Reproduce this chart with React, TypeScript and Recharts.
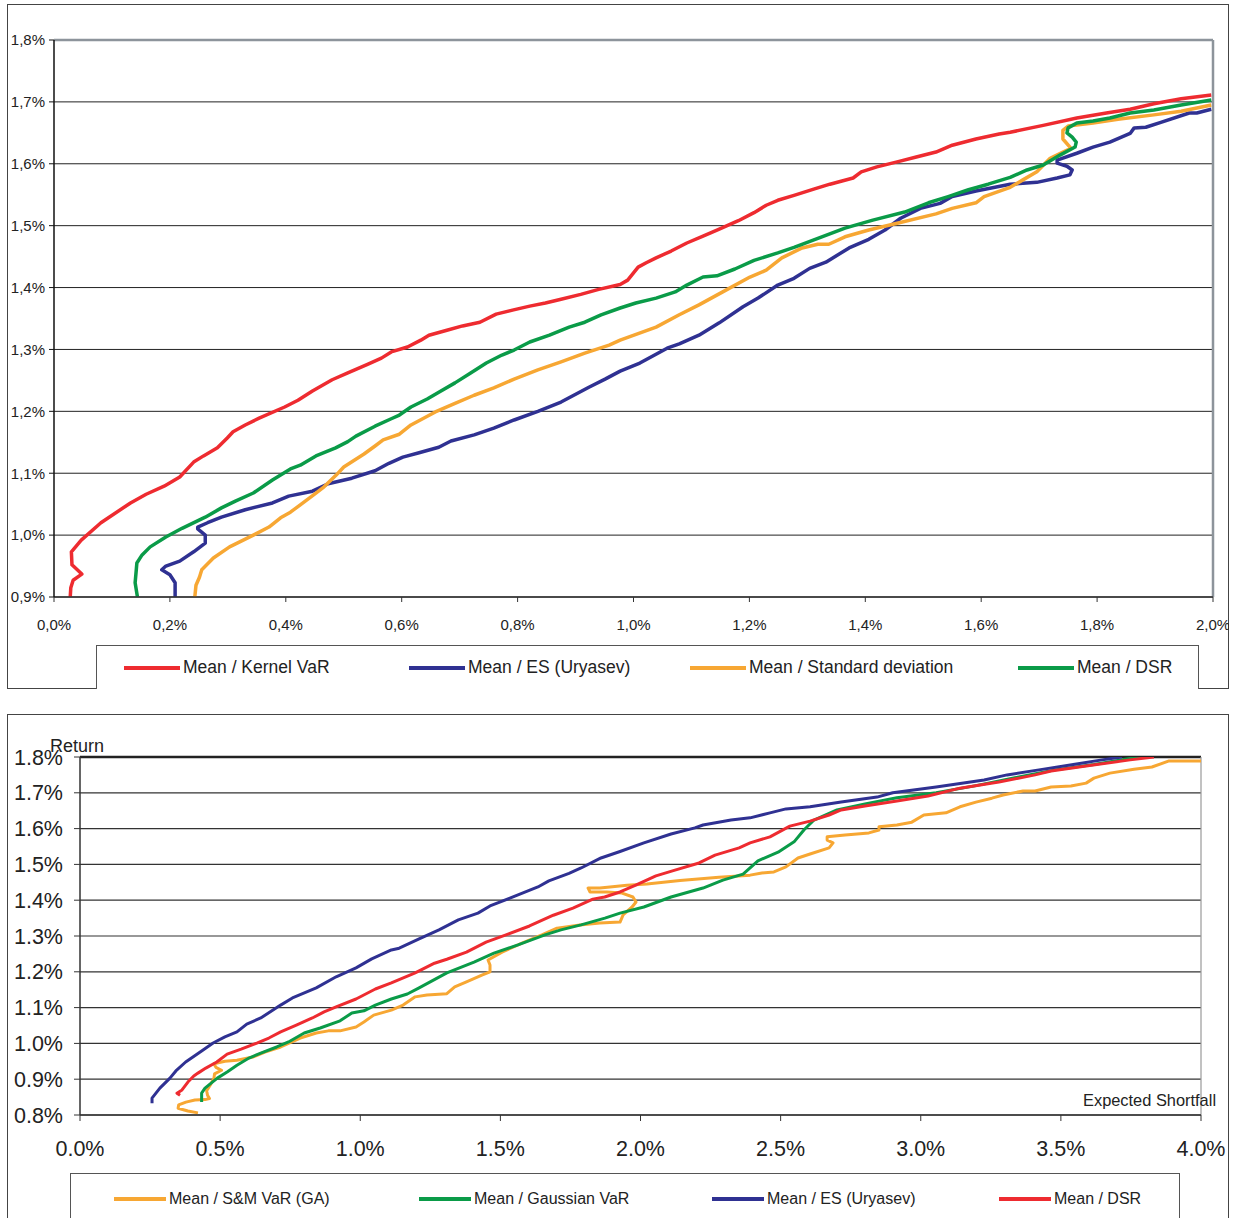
import { CartesianGrid, Line, LineChart, ReferenceLine, XAxis, YAxis } from "recharts";

// [risk in %, return in %]
type Pt = [number, number];

const topKernelVaR: Pt[] = [
  [0.028, 0.9], [0.029, 0.915], [0.033, 0.927], [0.048, 0.937], [0.031, 0.952], [0.03, 0.973],
  [0.047, 0.992], [0.081, 1.02], [0.132, 1.052], [0.159, 1.066], [0.19, 1.079], [0.217, 1.094],
  [0.241, 1.118], [0.258, 1.128], [0.282, 1.141], [0.299, 1.157], [0.309, 1.167], [0.33, 1.178],
  [0.354, 1.189], [0.398, 1.207], [0.421, 1.218], [0.446, 1.233], [0.48, 1.251], [0.507, 1.262],
  [0.541, 1.276], [0.565, 1.286], [0.582, 1.296], [0.61, 1.304], [0.633, 1.315], [0.647, 1.323],
  [0.678, 1.331], [0.705, 1.338], [0.735, 1.344], [0.763, 1.357], [0.793, 1.364], [0.821, 1.37],
  [0.848, 1.375], [0.875, 1.381], [0.909, 1.389], [0.94, 1.397], [0.977, 1.405], [0.99, 1.412],
  [1.008, 1.433], [1.022, 1.44], [1.039, 1.448], [1.065, 1.459], [1.092, 1.472], [1.12, 1.483],
  [1.147, 1.494], [1.181, 1.508], [1.208, 1.521], [1.229, 1.533], [1.249, 1.541], [1.277, 1.549],
  [1.311, 1.559], [1.339, 1.567], [1.379, 1.577], [1.393, 1.587], [1.42, 1.595], [1.455, 1.603],
  [1.488, 1.611], [1.522, 1.619], [1.55, 1.63], [1.591, 1.64], [1.631, 1.648], [1.65, 1.651],
  [1.707, 1.662], [1.765, 1.674], [1.816, 1.682], [1.857, 1.688], [1.898, 1.697], [1.945, 1.705],
  [1.997, 1.711],
];

const topEsUryasev: Pt[] = [
  [0.209, 0.9], [0.209, 0.923], [0.2, 0.936], [0.186, 0.944], [0.193, 0.95], [0.217, 0.958],
  [0.241, 0.973], [0.261, 0.987], [0.261, 1.0], [0.248, 1.01], [0.248, 1.013], [0.265, 1.02],
  [0.289, 1.029], [0.33, 1.041], [0.377, 1.052], [0.405, 1.063], [0.446, 1.071], [0.473, 1.083],
  [0.514, 1.092], [0.554, 1.104], [0.578, 1.116], [0.602, 1.126], [0.63, 1.133], [0.664, 1.142],
  [0.685, 1.152], [0.725, 1.162], [0.759, 1.173], [0.794, 1.186], [0.835, 1.2], [0.875, 1.215],
  [0.923, 1.239], [0.951, 1.252], [0.977, 1.265], [1.011, 1.278], [1.058, 1.302], [1.079, 1.309],
  [1.113, 1.323], [1.148, 1.343], [1.189, 1.369], [1.215, 1.383], [1.249, 1.404], [1.277, 1.415],
  [1.304, 1.431], [1.332, 1.441], [1.372, 1.464], [1.406, 1.478], [1.434, 1.493], [1.461, 1.512],
  [1.495, 1.528], [1.529, 1.536], [1.55, 1.547], [1.591, 1.556], [1.65, 1.567], [1.696, 1.57],
  [1.731, 1.577], [1.753, 1.582], [1.757, 1.59], [1.748, 1.596], [1.731, 1.601], [1.731, 1.606],
  [1.765, 1.617], [1.793, 1.627], [1.822, 1.635], [1.857, 1.649], [1.864, 1.658], [1.884, 1.659],
  [1.91, 1.667], [1.959, 1.682], [1.972, 1.682], [1.997, 1.688],
];

const topStdDev: Pt[] = [
  [0.243, 0.9], [0.245, 0.919], [0.251, 0.932], [0.255, 0.944], [0.275, 0.963], [0.303, 0.981],
  [0.344, 1.0], [0.371, 1.013], [0.391, 1.028], [0.408, 1.037], [0.425, 1.049], [0.452, 1.068],
  [0.466, 1.078], [0.487, 1.097], [0.5, 1.11], [0.535, 1.131], [0.554, 1.144], [0.568, 1.154],
  [0.596, 1.163], [0.616, 1.178], [0.658, 1.199], [0.692, 1.213], [0.725, 1.226], [0.759, 1.238],
  [0.794, 1.252], [0.835, 1.267], [0.875, 1.28], [0.916, 1.294], [0.958, 1.307], [0.977, 1.315],
  [1.039, 1.336], [1.079, 1.356], [1.113, 1.372], [1.154, 1.393], [1.201, 1.417], [1.229, 1.428],
  [1.256, 1.448], [1.291, 1.464], [1.318, 1.47], [1.337, 1.47], [1.365, 1.482], [1.406, 1.493],
  [1.455, 1.504], [1.522, 1.519], [1.55, 1.528], [1.591, 1.537], [1.605, 1.547], [1.65, 1.562],
  [1.672, 1.574], [1.696, 1.587], [1.719, 1.609], [1.741, 1.619], [1.755, 1.625], [1.741, 1.64],
  [1.741, 1.654], [1.75, 1.661], [1.793, 1.666], [1.836, 1.672], [1.898, 1.679], [1.945, 1.685],
  [1.997, 1.695],
];

const topDsr: Pt[] = [
  [0.144, 0.9], [0.14, 0.923], [0.142, 0.944], [0.143, 0.955], [0.152, 0.968], [0.166, 0.981],
  [0.193, 0.997], [0.221, 1.011], [0.261, 1.029], [0.289, 1.044], [0.313, 1.055], [0.344, 1.068],
  [0.377, 1.089], [0.408, 1.107], [0.425, 1.113], [0.452, 1.128], [0.486, 1.141], [0.507, 1.151],
  [0.521, 1.16], [0.554, 1.176], [0.582, 1.188], [0.596, 1.194], [0.616, 1.207], [0.644, 1.22],
  [0.664, 1.231], [0.692, 1.246], [0.719, 1.262], [0.746, 1.278], [0.773, 1.291], [0.794, 1.299],
  [0.821, 1.312], [0.855, 1.323], [0.889, 1.336], [0.916, 1.344], [0.944, 1.356], [0.977, 1.367],
  [1.004, 1.375], [1.039, 1.383], [1.072, 1.393], [1.092, 1.404], [1.12, 1.417], [1.144, 1.419],
  [1.175, 1.43], [1.208, 1.444], [1.249, 1.456], [1.277, 1.465], [1.325, 1.482], [1.365, 1.496],
  [1.413, 1.509], [1.468, 1.522], [1.509, 1.537], [1.543, 1.547], [1.578, 1.558], [1.612, 1.567],
  [1.65, 1.578], [1.679, 1.59], [1.707, 1.598], [1.736, 1.614], [1.762, 1.627], [1.764, 1.635],
  [1.757, 1.643], [1.748, 1.65], [1.75, 1.658], [1.765, 1.666], [1.793, 1.669], [1.822, 1.674],
  [1.857, 1.682], [1.898, 1.687], [1.945, 1.695], [1.997, 1.703],
];

const bottomSmVaR: Pt[] = [
  [0.421, 0.806], [0.385, 0.811], [0.35, 0.819], [0.352, 0.828], [0.378, 0.836], [0.41, 0.842],
  [0.446, 0.843], [0.462, 0.846], [0.455, 0.855], [0.452, 0.868], [0.465, 0.884], [0.478, 0.903],
  [0.48, 0.915], [0.505, 0.925], [0.485, 0.933], [0.478, 0.943], [0.517, 0.95], [0.56, 0.953],
  [0.617, 0.962], [0.66, 0.976], [0.716, 0.99], [0.786, 1.015], [0.843, 1.029], [0.886, 1.035],
  [0.928, 1.035], [0.985, 1.046], [1.013, 1.06], [1.048, 1.079], [1.111, 1.093], [1.153, 1.107],
  [1.196, 1.13], [1.238, 1.135], [1.309, 1.139], [1.337, 1.158], [1.379, 1.172], [1.434, 1.191],
  [1.463, 1.2], [1.463, 1.219], [1.456, 1.233], [1.506, 1.255], [1.577, 1.28], [1.648, 1.303],
  [1.702, 1.322], [1.784, 1.331], [1.855, 1.336], [1.927, 1.339], [1.938, 1.359], [1.97, 1.381],
  [1.984, 1.395], [1.973, 1.409], [1.934, 1.42], [1.88, 1.423], [1.82, 1.423], [1.813, 1.434],
  [1.855, 1.434], [1.891, 1.437], [1.952, 1.442], [2.023, 1.445], [2.141, 1.455], [2.28, 1.464],
  [2.391, 1.47], [2.433, 1.476], [2.476, 1.479], [2.519, 1.493], [2.562, 1.518], [2.605, 1.529],
  [2.673, 1.546], [2.687, 1.56], [2.666, 1.568], [2.666, 1.577], [2.73, 1.582], [2.815, 1.588],
  [2.851, 1.596], [2.851, 1.605], [2.915, 1.61], [2.968, 1.618], [3.011, 1.638], [3.09, 1.644],
  [3.14, 1.661], [3.197, 1.674], [3.254, 1.685], [3.294, 1.694], [3.365, 1.705], [3.408, 1.705],
  [3.465, 1.716], [3.536, 1.719], [3.59, 1.727], [3.618, 1.741], [3.675, 1.755], [3.761, 1.766],
  [3.825, 1.772], [3.886, 1.789], [4.0, 1.789],
];

const bottomGaussVaR: Pt[] = [
  [0.434, 0.836], [0.434, 0.861], [0.446, 0.875], [0.468, 0.889], [0.49, 0.903], [0.525, 0.92],
  [0.56, 0.939], [0.603, 0.959], [0.645, 0.973], [0.702, 0.99], [0.744, 1.004], [0.8, 1.029],
  [0.857, 1.043], [0.928, 1.063], [0.97, 1.085], [1.013, 1.091], [1.054, 1.107], [1.111, 1.124],
  [1.168, 1.138], [1.21, 1.155], [1.309, 1.197], [1.406, 1.227], [1.477, 1.252], [1.563, 1.275],
  [1.659, 1.303], [1.716, 1.317], [1.788, 1.331], [1.873, 1.35], [1.927, 1.364], [2.012, 1.381],
  [2.109, 1.409], [2.223, 1.434], [2.294, 1.456], [2.366, 1.473], [2.419, 1.51], [2.491, 1.534],
  [2.548, 1.563], [2.583, 1.596], [2.619, 1.624], [2.701, 1.652], [2.801, 1.669], [2.915, 1.686],
  [3.055, 1.7], [3.197, 1.72], [3.336, 1.742], [3.479, 1.764], [3.618, 1.779], [3.747, 1.796],
  [3.804, 1.8],
];

const bottomEsUryasev: Pt[] = [
  [0.257, 0.833], [0.257, 0.847], [0.285, 0.875], [0.321, 0.903], [0.342, 0.923], [0.377, 0.948],
  [0.434, 0.979], [0.475, 1.001], [0.517, 1.018], [0.56, 1.032], [0.595, 1.054], [0.645, 1.071],
  [0.716, 1.107], [0.758, 1.127], [0.843, 1.155], [0.914, 1.186], [0.985, 1.211], [1.041, 1.236],
  [1.111, 1.261], [1.139, 1.266], [1.21, 1.292], [1.281, 1.317], [1.35, 1.345], [1.42, 1.364],
  [1.463, 1.384], [1.534, 1.406], [1.634, 1.437], [1.673, 1.454], [1.745, 1.475], [1.788, 1.49],
  [1.859, 1.518], [1.927, 1.536], [2.012, 1.56], [2.109, 1.585], [2.194, 1.602], [2.223, 1.61],
  [2.323, 1.624], [2.391, 1.63], [2.462, 1.644], [2.519, 1.655], [2.605, 1.661], [2.716, 1.674],
  [2.844, 1.688], [2.9, 1.7], [3.055, 1.716], [3.226, 1.736], [3.308, 1.75], [3.422, 1.764],
  [3.55, 1.78], [3.647, 1.792], [3.718, 1.8],
];

const bottomDsr: Pt[] = [
  [0.357, 0.855], [0.346, 0.861], [0.364, 0.87], [0.385, 0.892], [0.406, 0.909], [0.421, 0.917],
  [0.449, 0.931], [0.488, 0.948], [0.525, 0.97], [0.575, 0.984], [0.631, 1.001], [0.674, 1.015],
  [0.716, 1.032], [0.772, 1.051], [0.829, 1.071], [0.871, 1.088], [0.914, 1.102], [0.985, 1.124],
  [1.054, 1.152], [1.111, 1.169], [1.196, 1.197], [1.265, 1.224], [1.309, 1.235], [1.379, 1.255],
  [1.449, 1.283], [1.52, 1.303], [1.604, 1.328], [1.689, 1.358], [1.759, 1.378], [1.83, 1.403],
  [1.872, 1.409], [1.927, 1.423], [1.983, 1.442], [2.055, 1.468], [2.123, 1.484], [2.209, 1.504],
  [2.266, 1.526], [2.352, 1.546], [2.391, 1.56], [2.462, 1.577], [2.533, 1.607], [2.605, 1.621],
  [2.673, 1.638], [2.716, 1.652], [2.801, 1.663], [2.915, 1.677], [3.026, 1.691], [3.14, 1.713],
  [3.279, 1.73], [3.408, 1.75], [3.465, 1.761], [3.59, 1.775], [3.747, 1.792], [3.832, 1.8],
];

const topXTicks = [0, 0.2, 0.4, 0.6, 0.8, 1.0, 1.2, 1.4, 1.6, 1.8, 2.0];
const topYTicks = [0.9, 1.0, 1.1, 1.2, 1.3, 1.4, 1.5, 1.6, 1.7, 1.8];
const bottomXTicks = [0, 0.5, 1.0, 1.5, 2.0, 2.5, 3.0, 3.5, 4.0];
const bottomYTicks = [0.8, 0.9, 1.0, 1.1, 1.2, 1.3, 1.4, 1.5, 1.6, 1.7, 1.8];

const RED = "#ee2b30";
const BLUE = "#2f3192";
const ORANGE = "#f7a733";
const GREEN = "#0a9b48";
const FONT = "'Liberation Sans', Arial, sans-serif";

const topSeries = [
  { name: "Mean / Kernel VaR", color: RED, pts: topKernelVaR },
  { name: "Mean / ES (Uryasev)", color: BLUE, pts: topEsUryasev },
  { name: "Mean / Standard deviation", color: ORANGE, pts: topStdDev },
  { name: "Mean / DSR", color: GREEN, pts: topDsr },
];
const bottomSeries = [
  { name: "Mean / S&M VaR (GA)", color: ORANGE, pts: bottomSmVaR },
  { name: "Mean / Gaussian VaR", color: GREEN, pts: bottomGaussVaR },
  { name: "Mean / ES (Uryasev)", color: BLUE, pts: bottomEsUryasev },
  { name: "Mean / DSR", color: RED, pts: bottomDsr },
];

const toRows = (pts: Pt[]) => pts.map(([x, y]) => ({ x, y }));
const commaPct = (v: number) => v.toFixed(1).replace(".", ",") + "%";
const dotPct = (v: number) => v.toFixed(1) + "%";

function LegendBox({
  items, left, top, width, height, offsets, lineW, fontSize,
}: {
  items: { name: string; color: string }[];
  left: number; top: number; width: number; height: number;
  offsets: number[]; lineW: number; fontSize: number;
}) {
  return (
    <div
      style={{
        position: "absolute", left, top, width, height, boxSizing: "border-box",
        border: "1.5px solid #555", borderBottom: "none", background: "#fff",
      }}
    >
      {items.map((it, i) => (
        <div
          key={it.name}
          style={{
            position: "absolute", left: offsets[i], top: 0, height: "100%",
            display: "flex", alignItems: "center", whiteSpace: "nowrap",
            fontFamily: FONT, fontSize, color: "#222",
          }}
        >
          <span style={{ display: "inline-block", width: lineW, height: 4, background: it.color, marginRight: 3 }} />
          {it.name}
        </div>
      ))}
    </div>
  );
}

export default function App() {
  return (
    <div style={{ position: "relative", width: 1242, height: 1218, overflow: "hidden", background: "#fff" }}>
      <style>{`body{margin:0}`}</style>

      {/* upper frontier: return vs risk, comma decimals */}
      <div style={{ position: "absolute", left: 7, top: 4, width: 1222, height: 685, boxSizing: "border-box", border: "1.5px solid #444" }} />
      <div style={{ position: "absolute", left: 7, top: 4 }}>
        <LineChart width={1222} height={685} margin={{ top: 36, right: 16, bottom: 0, left: 0 }}>
          <CartesianGrid vertical={false} stroke="#222" strokeWidth={1} />
          <XAxis
            type="number" dataKey="x" domain={[0, 2]} ticks={topXTicks} allowDataOverflow
            tickFormatter={commaPct} height={92} tickSize={5} tickMargin={17}
            axisLine={{ stroke: "#333", strokeWidth: 1.5 }} tickLine={{ stroke: "#333" }}
            tick={{ fontSize: 15, fill: "#222", fontFamily: FONT }}
          />
          <YAxis
            type="number" dataKey="y" domain={[0.9, 1.8]} ticks={topYTicks} allowDataOverflow
            tickFormatter={commaPct} width={47} tickSize={5} tickMargin={4}
            axisLine={{ stroke: "#111", strokeWidth: 1.5 }} tickLine={{ stroke: "#111" }}
            tick={{ fontSize: 15, fill: "#222", fontFamily: FONT }}
          />
          <ReferenceLine y={1.8} stroke="#8d949b" strokeWidth={2.5} />
          <ReferenceLine x={2} stroke="#8d949b" strokeWidth={2.5} />
          {topSeries.map((s) => (
            <Line
              key={s.name} data={toRows(s.pts)} dataKey="y" name={s.name} type="linear"
              stroke={s.color} strokeWidth={3.5} dot={false} activeDot={false}
              strokeLinejoin="round" isAnimationActive={false}
            />
          ))}
        </LineChart>
      </div>
      <LegendBox
        items={topSeries} left={96} top={645} width={1103} height={44}
        offsets={[27, 312, 593, 921]} lineW={56} fontSize={17.5}
      />

      {/* lower frontier: return vs expected shortfall */}
      <div style={{ position: "absolute", left: 7, top: 714, width: 1222, height: 520, boxSizing: "border-box", border: "1.5px solid #444" }} />
      <div style={{ position: "absolute", left: 7, top: 714 }}>
        <LineChart width={1222} height={510} margin={{ top: 43, right: 28, bottom: 0, left: 0 }}>
          <CartesianGrid vertical={false} stroke="#333" strokeWidth={1.2} />
          <XAxis
            type="number" dataKey="x" domain={[0, 4]} ticks={bottomXTicks} allowDataOverflow
            tickFormatter={dotPct} height={109} tickSize={6} tickMargin={20}
            axisLine={{ stroke: "#333", strokeWidth: 1.5 }} tickLine={{ stroke: "#333" }}
            tick={{ fontSize: 21.5, fill: "#222", fontFamily: FONT }}
          />
          <YAxis
            type="number" dataKey="y" domain={[0.8, 1.8]} ticks={bottomYTicks} allowDataOverflow
            tickFormatter={dotPct} width={73} tickSize={6} tickMargin={11}
            axisLine={{ stroke: "#333", strokeWidth: 1.5 }} tickLine={{ stroke: "#333" }}
            tick={{ fontSize: 21.5, fill: "#222", fontFamily: FONT }}
          />
          <ReferenceLine y={1.8} stroke="#222" strokeWidth={2.5} />
          <ReferenceLine x={4} stroke="#999" strokeWidth={1.2} />
          {bottomSeries.map((s) => (
            <Line
              key={s.name} data={toRows(s.pts)} dataKey="y" name={s.name} type="linear"
              stroke={s.color} strokeWidth={3} dot={false} activeDot={false}
              strokeLinejoin="round" isAnimationActive={false}
            />
          ))}
        </LineChart>
      </div>
      <div style={{ position: "absolute", left: 50, top: 736, fontFamily: FONT, fontSize: 18, color: "#222" }}>Return</div>
      <div style={{ position: "absolute", left: 1083, top: 1091, fontFamily: FONT, fontSize: 16.4, color: "#222", whiteSpace: "nowrap" }}>
        Expected Shortfall
      </div>
      <LegendBox
        items={bottomSeries} left={70} top={1173} width={1110} height={50}
        offsets={[43, 348, 641, 928]} lineW={52} fontSize={16}
      />
    </div>
  );
}
